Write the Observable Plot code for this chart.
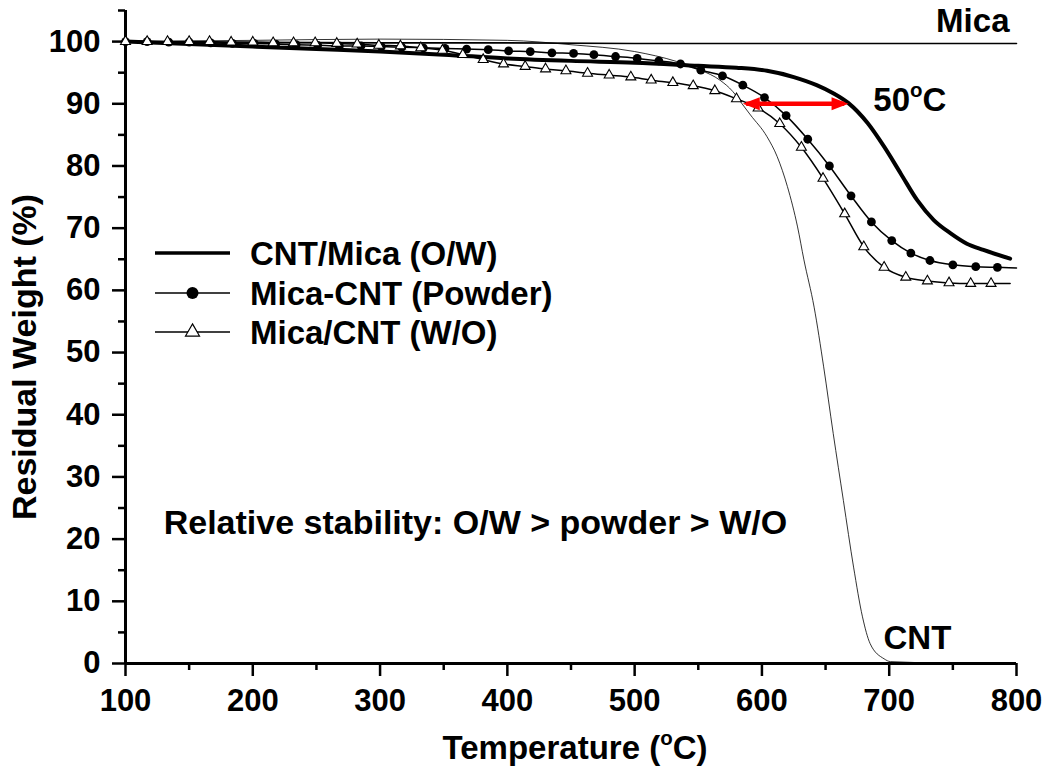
<!DOCTYPE html>
<html>
<head>
<meta charset="utf-8">
<script src="https://cdn.jsdelivr.net/npm/d3@7"></script>
<script src="https://cdn.jsdelivr.net/npm/@observablehq/plot@0.6"></script>
<style>
  body { margin: 0; background: #fff; }
  #chart { position: relative; width: 1048px; height: 767px; }
</style>
</head>
<body>
<div id="chart"></div>
<script>
// ---------- data ----------
const xTicks = [100, 200, 300, 400, 500, 600, 700, 800];
const xMinorTicks = [150, 250, 350, 450, 550, 650, 750];
const yTicks = [0, 10, 20, 30, 40, 50, 60, 70, 80, 90, 100];
const yMinorTicks = [5, 15, 25, 35, 45, 55, 65, 75, 85, 95, 105];

const seriesNames = ["CNT/Mica (O/W)", "Mica-CNT (Powder)", "Mica/CNT (W/O)", "Mica", "CNT"];

// CNT/Mica (O/W) - thick line
const tempOW   = [100,150,200,250,300,350,400,450,500,550,580,604,625,643,656,668,683,696,709,722,735,748,761,774,795];
const weightOW = [100,99.6,99.2,98.8,98.4,97.9,97.3,96.9,96.6,96.1,95.8,95.3,94.3,93.0,91.7,90.1,86.9,83.1,78.8,74.5,71.3,69.2,67.5,66.5,65.1];

// Mica-CNT (Powder) - filled circles (last value: end of the line)
const tempPowder   = [100,117,134,150,167,184,201,218,234,251,268,285,301,317,334,351,368,385,401,418,435,452,468,485,502,519,536,552,569,585,602,619,636,653,670,686,702,717,732,750,768,785,800];
const weightPowder = [100,100,99.9,99.9,99.8,99.7,99.7,99.6,99.5,99.4,99.3,99.3,99.2,99.1,99.0,98.9,98.8,98.7,98.5,98.4,98.2,98.1,97.9,97.6,97.3,96.9,96.4,95.4,94.5,93.0,91.0,88.1,84.3,80.0,75.2,71.0,68.0,66.0,64.8,64.1,63.8,63.7,63.6];

// Mica/CNT (W/O) - open triangles (last value: end of the line)
const tempWO   = [100,117,133,150,166,183,200,216,232,249,266,282,299,316,332,349,365,381,397,414,430,446,463,480,497,513,530,546,563,580,597,614,631,648,665,680,696,713,730,747,764,780,795];
const weightWO = [100,100,100,100,100,99.9,99.9,99.8,99.8,99.8,99.7,99.6,99.4,99.3,99.0,98.6,97.9,97.1,96.4,96.0,95.6,95.3,94.9,94.6,94.3,93.8,93.4,92.9,92.1,90.8,89.3,86.8,83.0,78.0,72.3,67.0,63.7,62.1,61.5,61.2,61.1,61.1,61.1];

// Mica
const tempMica   = [100,200,300,400,500,600,700,800];
const weightMica = [100,99.9,99.8,99.8,99.7,99.7,99.7,99.7];

// CNT
const tempCNT   = [100,200,300,400,450,500,533,552,567,577,584,591,604,612,620,628,633,641,648.5,656,664,672,679,685,696,701,738];
const weightCNT = [100,100.2,100.4,100.2,99.5,98.4,96.8,95.4,93.8,92.0,90.1,88.2,84.7,81.5,76.7,70.2,64.9,57.3,47.7,37.0,26.2,15.5,7.5,3.2,0.75,0.3,0.1];

// 50 °C shift arrow
const arrowTemps = [585, 668];
const arrowWeight = 90;

// ---------- build tables ----------
const toRows = (name, T, W) => T.map((t, i) => ({series: name, T: t, W: W[i]}));
const rowsOW = toRows(seriesNames[0], tempOW, weightOW);
const rowsPowder = toRows(seriesNames[1], tempPowder, weightPowder);
const rowsWO = toRows(seriesNames[2], tempWO, weightWO);
const rowsMica = toRows(seriesNames[3], tempMica, weightMica);
const rowsCNT = toRows(seriesNames[4], tempCNT, weightCNT);

const FONT = "'Liberation Sans', Arial, Helvetica, sans-serif";

// annotation placement (layout)
const labelsStart = [
  {text: "50°C", T: 687.5, W: 90.6},
  {text: "CNT", T: 695.5, W: 4.1}
];
const noteLabel = [{text: "Relative stability: O/W > powder > W/O", T: 130, W: 22.5}];
const labelsEnd = [
  {text: "Mica", T: 794.5, W: 103.2}
];

// custom filled arrow heads (tip at the data point)
const headRight = {draw(ctx, size) { const r = Math.sqrt(size / Math.PI); ctx.moveTo(0, 0); ctx.lineTo(-2.6 * r, -r); ctx.lineTo(-2.6 * r, r); ctx.closePath(); }};
const headLeft  = {draw(ctx, size) { const r = Math.sqrt(size / Math.PI); ctx.moveTo(0, 0); ctx.lineTo(2.6 * r, -r); ctx.lineTo(2.6 * r, r); ctx.closePath(); }};

const plot = Plot.plot({
  width: 1048,
  height: 767,
  marginLeft: 125,
  marginRight: 32,
  marginTop: 10,
  marginBottom: 104,
  x: {domain: [100, 800]},
  y: {domain: [0, 105]},
  style: {fontFamily: FONT, background: "white", color: "black"},
  marks: [
    // axes
    Plot.axisX({ticks: xTicks, tickSize: 13, tickPadding: 12, fontSize: 31, fontWeight: "bold", strokeWidth: 2.5, label: null, tickFormat: d => String(d)}),
    Plot.axisX({ticks: xMinorTicks, tickSize: 7, strokeWidth: 2.5, label: null, tickFormat: () => ""}),
    Plot.axisY({ticks: yTicks, tickSize: 13, tickPadding: 12, fontSize: 31, fontWeight: "bold", strokeWidth: 2.5, label: null, tickFormat: d => String(d)}),
    Plot.axisY({ticks: yMinorTicks, tickSize: 7, strokeWidth: 2.5, label: null, tickFormat: () => ""}),
    Plot.ruleX([100], {strokeWidth: 3}),
    Plot.ruleY([0], {strokeWidth: 3}),
    // axis titles
    Plot.text(["Residual Weight (%)"], {frameAnchor: "left", textAnchor: "middle", lineAnchor: "middle", rotate: -90, dx: -100, dy: 20, fontSize: 34, fontWeight: "bold", fill: "black"}),
    Plot.text(["Temperature (°C)"], {frameAnchor: "bottom", textAnchor: "middle", lineAnchor: "middle", dx: 4, dy: 85, fontSize: 33, fontWeight: "bold", fill: "black"}),
    // series
    Plot.line(rowsMica, {x: "T", y: "W", stroke: "black", strokeWidth: 1.6}),
    Plot.line(rowsCNT, {x: "T", y: "W", stroke: "black", strokeWidth: 0.8, curve: "monotone-x"}),
    Plot.line(rowsOW, {x: "T", y: "W", stroke: "black", strokeWidth: 4, curve: "monotone-x"}),
    Plot.line(rowsPowder, {x: "T", y: "W", stroke: "black", strokeWidth: 1.5, curve: "monotone-x"}),
    Plot.dot(rowsPowder.slice(0, -1), {x: "T", y: "W", r: 4.4, fill: "black", stroke: "none"}),
    Plot.line(rowsWO, {x: "T", y: "W", stroke: "black", strokeWidth: 1.5, curve: "monotone-x"}),
    Plot.dot(rowsWO.slice(0, -1), {x: "T", y: "W", r: 3.7, symbol: "triangle", fill: "white", stroke: "black", strokeWidth: 1.1}),
    // arrow
    Plot.ruleY([arrowWeight], {x1: arrowTemps[0] + 3, x2: arrowTemps[1] - 3, stroke: "#ff0000", strokeWidth: 4.5}),
    Plot.dot([arrowTemps[0]], {x: d => d, y: () => arrowWeight, symbol: headLeft, r: 6.5, fill: "#ff0000", stroke: "none"}),
    Plot.dot([arrowTemps[1]], {x: d => d, y: () => arrowWeight, symbol: headRight, r: 6.5, fill: "#ff0000", stroke: "none"}),
    // annotations
    Plot.text(labelsStart, {x: "T", y: "W", text: "text", textAnchor: "start", lineAnchor: "middle", fontSize: 33, fontWeight: "bold", fill: "black"}),
    Plot.text(noteLabel, {x: "T", y: "W", text: "text", textAnchor: "start", lineAnchor: "middle", fontSize: 34, fontWeight: "bold", fill: "black"}),
    Plot.text(labelsEnd, {x: "T", y: "W", text: "text", textAnchor: "end", lineAnchor: "middle", fontSize: 33, fontWeight: "bold", fill: "black"})
  ]
});

document.getElementById("chart").appendChild(plot);

// superscript "o" for degree
d3.select(plot).selectAll("text").each(function() {
  const t = this.textContent;
  if (t.includes("°") && this.childElementCount === 0) {
    const [before, after] = t.split("°");
    const el = d3.select(this);
    el.text(null);
    el.append("tspan").text(before);
    el.append("tspan").attr("font-size", "0.62em").attr("dy", "-14").text("o");
    el.append("tspan").attr("dy", "14").text(after);
  }
});

// Legend (drawn into the same SVG)
const legend = d3.select(plot).append("g")
  .attr("font-family", FONT).attr("font-weight", "bold").attr("font-size", 33)
  .attr("text-anchor", "start");
const legendRows = [
  {name: seriesNames[0], y: 253, kind: "thick"},
  {name: seriesNames[1], y: 293, kind: "circle"},
  {name: seriesNames[2], y: 332, kind: "triangle"}
];
legendRows.forEach(r => {
  legend.append("line").attr("x1", 155).attr("x2", 230).attr("y1", r.y).attr("y2", r.y)
    .attr("stroke", "black").attr("stroke-width", r.kind === "thick" ? 3.5 : 1.5);
  if (r.kind === "circle") {
    legend.append("circle").attr("cx", 192.5).attr("cy", r.y).attr("r", 6).attr("fill", "black");
  } else if (r.kind === "triangle") {
    legend.append("path").attr("transform", `translate(192.5,${r.y})`)
      .attr("d", d3.symbol(d3.symbolTriangle, Math.PI * 5.2 * 5.2)())
      .attr("fill", "white").attr("stroke", "black").attr("stroke-width", 1.2);
  }
  legend.append("text").attr("x", 250).attr("y", r.y).attr("dy", "0.36em").attr("fill", "black")
    .attr("text-anchor", "start").text(r.name);
});
</script>
</body>
</html>
